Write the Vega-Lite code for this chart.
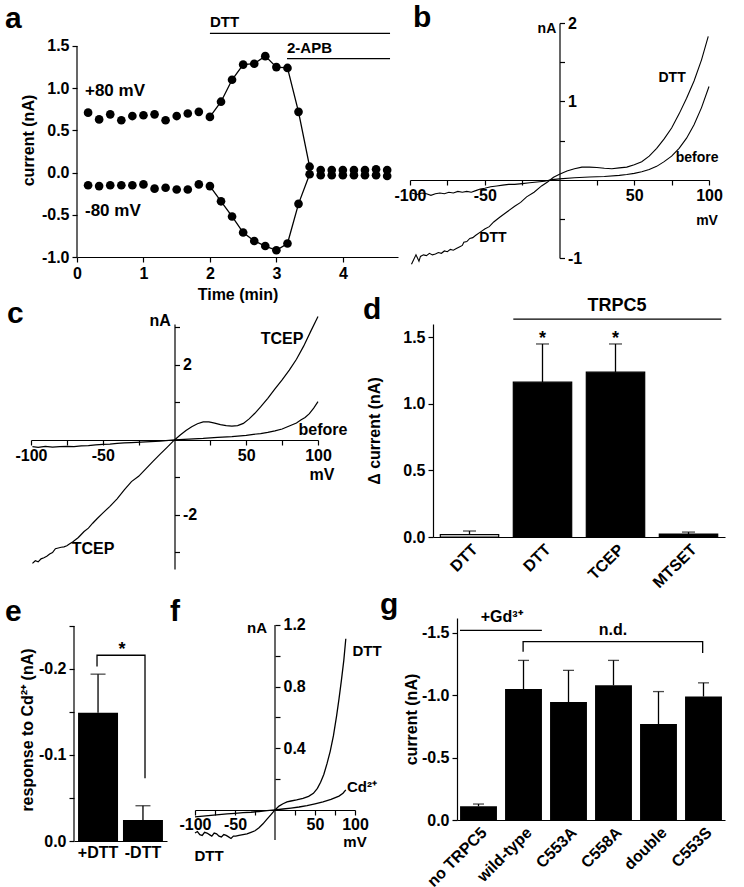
{
"$schema": "https://vega.github.io/schema/vega-lite/v6.json",
"background": "white",
"padding": {"left": 5, "top": 3, "right": 4, "bottom": 4},
"spacing": -7,
"config": {
 "font": "Liberation Sans",
 "view": {"stroke": null},
 "axis": {"labelFont": "Liberation Sans", "labelFontSize": 16, "labelFontWeight": "bold", "labelColor": "black", "titleFont": "Liberation Sans", "titleFontSize": 16, "titleFontWeight": "bold", "titleColor": "black", "domainColor": "black", "domainWidth": 1.2, "tickColor": "black", "tickWidth": 1.2, "tickSize": 5, "grid": false, "labelPadding": 3, "labelOverlap": false, "labelFlush": false, "labelBound": false},
 "title": {"font": "Liberation Sans", "fontSize": 30, "fontWeight": "bold", "color": "black", "anchor": "start", "frame": "group", "offset": 0, "baseline": "bottom"},
 "text": {"font": "Liberation Sans", "fontWeight": "bold", "fontSize": 15, "color": "black"}
},
"datasets": {
 "a": [
  {"t":0.167,"v":0.71,"s":"p"},{"t":0.333,"v":0.63,"s":"p"},{"t":0.5,"v":0.69,"s":"p"},{"t":0.667,"v":0.62,"s":"p"},{"t":0.833,"v":0.67,"s":"p"},{"t":1.0,"v":0.68,"s":"p"},{"t":1.167,"v":0.69,"s":"p"},{"t":1.333,"v":0.62,"s":"p"},{"t":1.5,"v":0.67,"s":"p"},{"t":1.667,"v":0.70,"s":"p"},{"t":1.833,"v":0.72,"s":"p"},{"t":2.0,"v":0.66,"s":"p"},{"t":2.167,"v":0.84,"s":"p"},{"t":2.333,"v":1.10,"s":"p"},{"t":2.5,"v":1.28,"s":"p"},{"t":2.667,"v":1.29,"s":"p"},{"t":2.833,"v":1.38,"s":"p"},{"t":3.0,"v":1.25,"s":"p"},{"t":3.167,"v":1.24,"s":"p"},{"t":3.333,"v":0.72,"s":"p"},{"t":3.5,"v":0.07,"s":"p"},{"t":3.667,"v":0.03,"s":"p"},{"t":3.833,"v":0.03,"s":"p"},{"t":4.0,"v":0.03,"s":"p"},{"t":4.167,"v":0.03,"s":"p"},{"t":4.333,"v":0.03,"s":"p"},{"t":4.5,"v":0.04,"s":"p"},{"t":4.667,"v":0.03,"s":"p"},
  {"t":0.167,"v":-0.15,"s":"n"},{"t":0.333,"v":-0.16,"s":"n"},{"t":0.5,"v":-0.15,"s":"n"},{"t":0.667,"v":-0.15,"s":"n"},{"t":0.833,"v":-0.15,"s":"n"},{"t":1.0,"v":-0.14,"s":"n"},{"t":1.167,"v":-0.19,"s":"n"},{"t":1.333,"v":-0.18,"s":"n"},{"t":1.5,"v":-0.20,"s":"n"},{"t":1.667,"v":-0.20,"s":"n"},{"t":1.833,"v":-0.14,"s":"n"},{"t":2.0,"v":-0.16,"s":"n"},{"t":2.167,"v":-0.34,"s":"n"},{"t":2.333,"v":-0.52,"s":"n"},{"t":2.5,"v":-0.71,"s":"n"},{"t":2.667,"v":-0.81,"s":"n"},{"t":2.833,"v":-0.87,"s":"n"},{"t":3.0,"v":-0.92,"s":"n"},{"t":3.167,"v":-0.84,"s":"n"},{"t":3.333,"v":-0.37,"s":"n"},{"t":3.5,"v":-0.02,"s":"n"},{"t":3.667,"v":-0.03,"s":"n"},{"t":3.833,"v":-0.03,"s":"n"},{"t":4.0,"v":-0.03,"s":"n"},{"t":4.167,"v":-0.03,"s":"n"},{"t":4.333,"v":-0.03,"s":"n"},{"t":4.5,"v":-0.03,"s":"n"},{"t":4.667,"v":-0.04,"s":"n"}
 ],
 "a_lab": [{"t":0.12,"v":0.97,"label":"+80 mV"},{"t":0.12,"v":-0.46,"label":"-80 mV"}],
 "a_bar": [{"t1":2.0,"t2":4.71,"v":1.65,"label":"DTT"},{"t1":3.16,"t2":4.71,"v":1.35,"label":"2-APB"}],
 "b": [
  {"mv":-99,"na":-1.08,"tr":"DTT"},{"mv":-97.5,"na":-1.02,"tr":"DTT"},{"mv":-96,"na":-0.96,"tr":"DTT"},{"mv":-95,"na":-1.0,"tr":"DTT"},{"mv":-94,"na":-1.04,"tr":"DTT"},{"mv":-93,"na":-0.98,"tr":"DTT"},{"mv":-91,"na":-0.96,"tr":"DTT"},{"mv":-89,"na":-0.97,"tr":"DTT"},{"mv":-87,"na":-0.94,"tr":"DTT"},{"mv":-85,"na":-0.96,"tr":"DTT"},{"mv":-83,"na":-0.95,"tr":"DTT"},{"mv":-81,"na":-0.93,"tr":"DTT"},{"mv":-79,"na":-0.94,"tr":"DTT"},{"mv":-77,"na":-0.91,"tr":"DTT"},{"mv":-75,"na":-0.92,"tr":"DTT"},{"mv":-73,"na":-0.89,"tr":"DTT"},{"mv":-71,"na":-0.9,"tr":"DTT"},{"mv":-69,"na":-0.88,"tr":"DTT"},{"mv":-67,"na":-0.86,"tr":"DTT"},{"mv":-65,"na":-0.84,"tr":"DTT"},{"mv":-64,"na":-0.8,"tr":"DTT"},{"mv":-62,"na":-0.79,"tr":"DTT"},{"mv":-60,"na":-0.75,"tr":"DTT"},{"mv":-58,"na":-0.74,"tr":"DTT"},{"mv":-56,"na":-0.71,"tr":"DTT"},{"mv":-53,"na":-0.67,"tr":"DTT"},{"mv":-50,"na":-0.63,"tr":"DTT"},{"mv":-47,"na":-0.6,"tr":"DTT"},{"mv":-44,"na":-0.54,"tr":"DTT"},{"mv":-40,"na":-0.48,"tr":"DTT"},{"mv":-35,"na":-0.41,"tr":"DTT"},{"mv":-30,"na":-0.34,"tr":"DTT"},{"mv":-26,"na":-0.29,"tr":"DTT"},{"mv":-22,"na":-0.22,"tr":"DTT"},{"mv":-17,"na":-0.16,"tr":"DTT"},{"mv":-12,"na":-0.08,"tr":"DTT"},{"mv":-8,"na":-0.03,"tr":"DTT"},{"mv":-4,"na":0.03,"tr":"DTT"},{"mv":0,"na":0.07,"tr":"DTT"},{"mv":5,"na":0.11,"tr":"DTT"},{"mv":10,"na":0.14,"tr":"DTT"},{"mv":15,"na":0.16,"tr":"DTT"},{"mv":20,"na":0.16,"tr":"DTT"},{"mv":25,"na":0.155,"tr":"DTT"},{"mv":30,"na":0.145,"tr":"DTT"},{"mv":35,"na":0.14,"tr":"DTT"},{"mv":40,"na":0.15,"tr":"DTT"},{"mv":45,"na":0.16,"tr":"DTT"},{"mv":50,"na":0.19,"tr":"DTT"},{"mv":55,"na":0.23,"tr":"DTT"},{"mv":60,"na":0.3,"tr":"DTT"},{"mv":65,"na":0.4,"tr":"DTT"},{"mv":70,"na":0.52,"tr":"DTT"},{"mv":75,"na":0.66,"tr":"DTT"},{"mv":80,"na":0.84,"tr":"DTT"},{"mv":85,"na":1.04,"tr":"DTT"},{"mv":90,"na":1.26,"tr":"DTT"},{"mv":95,"na":1.53,"tr":"DTT"},{"mv":99.5,"na":1.83,"tr":"DTT"},
  {"mv":-99,"na":-0.17,"tr":"before"},{"mv":-95,"na":-0.19,"tr":"before"},{"mv":-92,"na":-0.17,"tr":"before"},{"mv":-89,"na":-0.18,"tr":"before"},{"mv":-86,"na":-0.2,"tr":"before"},{"mv":-83,"na":-0.18,"tr":"before"},{"mv":-80,"na":-0.17,"tr":"before"},{"mv":-77,"na":-0.18,"tr":"before"},{"mv":-74,"na":-0.16,"tr":"before"},{"mv":-71,"na":-0.17,"tr":"before"},{"mv":-68,"na":-0.15,"tr":"before"},{"mv":-65,"na":-0.16,"tr":"before"},{"mv":-62,"na":-0.15,"tr":"before"},{"mv":-59,"na":-0.16,"tr":"before"},{"mv":-56,"na":-0.14,"tr":"before"},{"mv":-53,"na":-0.12,"tr":"before"},{"mv":-50,"na":-0.11,"tr":"before"},{"mv":-46,"na":-0.09,"tr":"before"},{"mv":-42,"na":-0.08,"tr":"before"},{"mv":-38,"na":-0.07,"tr":"before"},{"mv":-34,"na":-0.06,"tr":"before"},{"mv":-30,"na":-0.06,"tr":"before"},{"mv":-25,"na":-0.05,"tr":"before"},{"mv":-20,"na":-0.04,"tr":"before"},{"mv":-15,"na":-0.03,"tr":"before"},{"mv":-10,"na":-0.02,"tr":"before"},{"mv":-5,"na":0.0,"tr":"before"},{"mv":0,"na":0.01,"tr":"before"},{"mv":10,"na":0.025,"tr":"before"},{"mv":20,"na":0.035,"tr":"before"},{"mv":30,"na":0.04,"tr":"before"},{"mv":40,"na":0.055,"tr":"before"},{"mv":45,"na":0.065,"tr":"before"},{"mv":50,"na":0.08,"tr":"before"},{"mv":55,"na":0.1,"tr":"before"},{"mv":60,"na":0.13,"tr":"before"},{"mv":65,"na":0.17,"tr":"before"},{"mv":70,"na":0.23,"tr":"before"},{"mv":75,"na":0.3,"tr":"before"},{"mv":80,"na":0.4,"tr":"before"},{"mv":85,"na":0.53,"tr":"before"},{"mv":90,"na":0.7,"tr":"before"},{"mv":95,"na":0.92,"tr":"before"},{"mv":100,"na":1.19,"tr":"before"}
 ],
 "b_lab": [{"mv":75.3,"na":1.30,"t":"DTT"},{"mv":92,"na":0.28,"t":"before"},{"mv":-44.5,"na":-0.745,"t":"DTT"},{"mv":-8.4,"na":1.92,"t":"nA"},{"mv":98.7,"na":-0.53,"t":"mV"}],
 "c": [
  {"mv":-99,"na":-3.29,"tr":"TCEP"},{"mv":-97,"na":-3.22,"tr":"TCEP"},{"mv":-95,"na":-3.25,"tr":"TCEP"},{"mv":-93,"na":-3.17,"tr":"TCEP"},{"mv":-91,"na":-3.14,"tr":"TCEP"},{"mv":-89,"na":-3.1,"tr":"TCEP"},{"mv":-87,"na":-3.04,"tr":"TCEP"},{"mv":-85,"na":-3.0,"tr":"TCEP"},{"mv":-83,"na":-2.9,"tr":"TCEP"},{"mv":-81,"na":-2.88,"tr":"TCEP"},{"mv":-79,"na":-2.86,"tr":"TCEP"},{"mv":-77,"na":-2.85,"tr":"TCEP"},{"mv":-75,"na":-2.82,"tr":"TCEP"},{"mv":-73,"na":-2.77,"tr":"TCEP"},{"mv":-71,"na":-2.72,"tr":"TCEP"},{"mv":-69,"na":-2.66,"tr":"TCEP"},{"mv":-67,"na":-2.6,"tr":"TCEP"},{"mv":-65,"na":-2.52,"tr":"TCEP"},{"mv":-63,"na":-2.44,"tr":"TCEP"},{"mv":-60,"na":-2.35,"tr":"TCEP"},{"mv":-57,"na":-2.22,"tr":"TCEP"},{"mv":-54,"na":-2.1,"tr":"TCEP"},{"mv":-50,"na":-1.95,"tr":"TCEP"},{"mv":-45,"na":-1.77,"tr":"TCEP"},{"mv":-40,"na":-1.57,"tr":"TCEP"},{"mv":-35,"na":-1.33,"tr":"TCEP"},{"mv":-30,"na":-1.11,"tr":"TCEP"},{"mv":-25,"na":-0.97,"tr":"TCEP"},{"mv":-20,"na":-0.77,"tr":"TCEP"},{"mv":-15,"na":-0.57,"tr":"TCEP"},{"mv":-10,"na":-0.38,"tr":"TCEP"},{"mv":-5,"na":-0.19,"tr":"TCEP"},{"mv":0,"na":0,"tr":"TCEP"},{"mv":4,"na":0.13,"tr":"TCEP"},{"mv":8,"na":0.25,"tr":"TCEP"},{"mv":12,"na":0.35,"tr":"TCEP"},{"mv":16,"na":0.43,"tr":"TCEP"},{"mv":20,"na":0.48,"tr":"TCEP"},{"mv":24,"na":0.48,"tr":"TCEP"},{"mv":28,"na":0.45,"tr":"TCEP"},{"mv":32,"na":0.41,"tr":"TCEP"},{"mv":36,"na":0.38,"tr":"TCEP"},{"mv":40,"na":0.37,"tr":"TCEP"},{"mv":44,"na":0.38,"tr":"TCEP"},{"mv":48,"na":0.44,"tr":"TCEP"},{"mv":52,"na":0.56,"tr":"TCEP"},{"mv":56,"na":0.71,"tr":"TCEP"},{"mv":60,"na":0.88,"tr":"TCEP"},{"mv":65,"na":1.11,"tr":"TCEP"},{"mv":70,"na":1.36,"tr":"TCEP"},{"mv":75,"na":1.6,"tr":"TCEP"},{"mv":80,"na":1.86,"tr":"TCEP"},{"mv":85,"na":2.15,"tr":"TCEP"},{"mv":90,"na":2.5,"tr":"TCEP"},{"mv":95,"na":2.9,"tr":"TCEP"},{"mv":100,"na":3.29,"tr":"TCEP"},
  {"mv":-99,"na":-0.18,"tr":"before"},{"mv":-95,"na":-0.2,"tr":"before"},{"mv":-90,"na":-0.17,"tr":"before"},{"mv":-85,"na":-0.19,"tr":"before"},{"mv":-80,"na":-0.18,"tr":"before"},{"mv":-75,"na":-0.17,"tr":"before"},{"mv":-70,"na":-0.18,"tr":"before"},{"mv":-65,"na":-0.16,"tr":"before"},{"mv":-60,"na":-0.15,"tr":"before"},{"mv":-55,"na":-0.13,"tr":"before"},{"mv":-50,"na":-0.12,"tr":"before"},{"mv":-45,"na":-0.11,"tr":"before"},{"mv":-40,"na":-0.09,"tr":"before"},{"mv":-35,"na":-0.08,"tr":"before"},{"mv":-30,"na":-0.07,"tr":"before"},{"mv":-20,"na":-0.05,"tr":"before"},{"mv":-10,"na":-0.03,"tr":"before"},{"mv":0,"na":0,"tr":"before"},{"mv":10,"na":0.02,"tr":"before"},{"mv":20,"na":0.04,"tr":"before"},{"mv":30,"na":0.07,"tr":"before"},{"mv":40,"na":0.09,"tr":"before"},{"mv":50,"na":0.12,"tr":"before"},{"mv":55,"na":0.15,"tr":"before"},{"mv":60,"na":0.17,"tr":"before"},{"mv":65,"na":0.2,"tr":"before"},{"mv":70,"na":0.24,"tr":"before"},{"mv":75,"na":0.29,"tr":"before"},{"mv":80,"na":0.37,"tr":"before"},{"mv":85,"na":0.45,"tr":"before"},{"mv":88,"na":0.53,"tr":"before"},{"mv":91,"na":0.6,"tr":"before"},{"mv":94,"na":0.7,"tr":"before"},{"mv":97,"na":0.85,"tr":"before"},{"mv":100,"na":1.02,"tr":"before"}
 ],
 "c_lab": [{"mv":74.9,"na":2.70,"t":"TCEP"},{"mv":103.5,"na":0.27,"t":"before"},{"mv":-56.8,"na":-2.90,"t":"TCEP"},{"mv":-10,"na":3.18,"t":"nA"},{"mv":102.8,"na":-0.93,"t":"mV"}],
 "d": [{"k":"DTT ","v":0.018,"err":0.045,"g":"control","sig":""},{"k":"DTT","v":1.163,"err":1.45,"g":"TRPC5","sig":"*"},{"k":"TCEP","v":1.238,"err":1.45,"g":"TRPC5","sig":"*"},{"k":"MTSET","v":0.022,"err":0.037,"g":"TRPC5","sig":""}],
 "d_ann": [{"x1":1.1,"x2":3.95,"xt":2.52,"y":1.637,"label":"TRPC5"}],
 "e": [{"k":"+DTT","v":-0.149,"err":-0.194},{"k":"-DTT","v":-0.0244,"err":-0.041}],
 "e_br": [{"x":0.495,"y":-0.203,"o":1},{"x":0.495,"y":-0.216,"o":2},{"x":1.527,"y":-0.216,"o":3},{"x":1.527,"y":-0.073,"o":4}],
 "e_star": [{"x":1.03,"y":-0.216,"label":"*"}],
 "f": [
  {"mv":-100,"na":-0.15,"tr":"DTT"},{"mv":-97,"na":-0.14,"tr":"DTT"},{"mv":-94,"na":-0.16,"tr":"DTT"},{"mv":-91,"na":-0.165,"tr":"DTT"},{"mv":-88,"na":-0.145,"tr":"DTT"},{"mv":-85,"na":-0.15,"tr":"DTT"},{"mv":-82,"na":-0.16,"tr":"DTT"},{"mv":-79,"na":-0.17,"tr":"DTT"},{"mv":-76,"na":-0.15,"tr":"DTT"},{"mv":-73,"na":-0.155,"tr":"DTT"},{"mv":-70,"na":-0.17,"tr":"DTT"},{"mv":-67,"na":-0.175,"tr":"DTT"},{"mv":-64,"na":-0.16,"tr":"DTT"},{"mv":-61,"na":-0.165,"tr":"DTT"},{"mv":-58,"na":-0.175,"tr":"DTT"},{"mv":-55,"na":-0.185,"tr":"DTT"},{"mv":-52,"na":-0.17,"tr":"DTT"},{"mv":-49,"na":-0.17,"tr":"DTT"},{"mv":-45,"na":-0.165,"tr":"DTT"},{"mv":-40,"na":-0.16,"tr":"DTT"},{"mv":-35,"na":-0.155,"tr":"DTT"},{"mv":-30,"na":-0.145,"tr":"DTT"},{"mv":-25,"na":-0.135,"tr":"DTT"},{"mv":-20,"na":-0.115,"tr":"DTT"},{"mv":-15,"na":-0.09,"tr":"DTT"},{"mv":-10,"na":-0.06,"tr":"DTT"},{"mv":-5,"na":-0.03,"tr":"DTT"},{"mv":0,"na":0,"tr":"DTT"},{"mv":5,"na":0.025,"tr":"DTT"},{"mv":10,"na":0.04,"tr":"DTT"},{"mv":15,"na":0.052,"tr":"DTT"},{"mv":20,"na":0.058,"tr":"DTT"},{"mv":27,"na":0.065,"tr":"DTT"},{"mv":35,"na":0.075,"tr":"DTT"},{"mv":42,"na":0.088,"tr":"DTT"},{"mv":48,"na":0.108,"tr":"DTT"},{"mv":53,"na":0.14,"tr":"DTT"},{"mv":57,"na":0.18,"tr":"DTT"},{"mv":61,"na":0.23,"tr":"DTT"},{"mv":65,"na":0.3,"tr":"DTT"},{"mv":69,"na":0.38,"tr":"DTT"},{"mv":73,"na":0.48,"tr":"DTT"},{"mv":77,"na":0.61,"tr":"DTT"},{"mv":80,"na":0.72,"tr":"DTT"},{"mv":83,"na":0.84,"tr":"DTT"},{"mv":86,"na":0.97,"tr":"DTT"},{"mv":88.5,"na":1.11,"tr":"DTT"},
  {"mv":-100,"na":-0.045,"tr":"Cd"},{"mv":-90,"na":-0.04,"tr":"Cd"},{"mv":-80,"na":-0.035,"tr":"Cd"},{"mv":-70,"na":-0.03,"tr":"Cd"},{"mv":-60,"na":-0.025,"tr":"Cd"},{"mv":-50,"na":-0.022,"tr":"Cd"},{"mv":-40,"na":-0.018,"tr":"Cd"},{"mv":-30,"na":-0.015,"tr":"Cd"},{"mv":-20,"na":-0.01,"tr":"Cd"},{"mv":-10,"na":-0.005,"tr":"Cd"},{"mv":0,"na":0,"tr":"Cd"},{"mv":10,"na":0.006,"tr":"Cd"},{"mv":20,"na":0.012,"tr":"Cd"},{"mv":30,"na":0.019,"tr":"Cd"},{"mv":40,"na":0.028,"tr":"Cd"},{"mv":50,"na":0.04,"tr":"Cd"},{"mv":60,"na":0.053,"tr":"Cd"},{"mv":70,"na":0.068,"tr":"Cd"},{"mv":80,"na":0.09,"tr":"Cd"},{"mv":85,"na":0.108,"tr":"Cd"},{"mv":88.5,"na":0.13,"tr":"Cd"}
 ],
 "f_lab": [{"mv":115,"na":1.03,"t":"DTT"},{"mv":108.75,"na":0.151,"t":"Cd²⁺"},{"mv":-82.5,"na":-0.30,"t":"DTT"},{"mv":-22.5,"na":1.18,"t":"nA"},{"mv":100,"na":-0.21,"t":"mV"}],
 "g": [{"k":"no TRPC5","v":-0.11,"err":-0.128},{"k":"wild-type","v":-1.05,"err":-1.28},{"k":"C553A","v":-0.946,"err":-1.20},{"k":"C558A","v":-1.08,"err":-1.28},{"k":"double","v":-0.77,"err":-1.03},{"k":"C553S","v":-0.99,"err":-1.10}],
 "g_gd": [{"x1":0.067,"x2":1.9,"xt":1.0,"y":-1.52,"label":"+Gd³⁺"}],
 "g_br": [{"x":1.48,"y":-1.35,"o":1},{"x":1.48,"y":-1.43,"o":2},{"x":5.5,"y":-1.43,"o":3},{"x":5.5,"y":-1.34,"o":4}],
 "g_nd": [{"x":3.49,"y":-1.43,"label":"n.d."}]
},
"vconcat": [
{"hconcat": [
 {"width": 46, "height": 1, "data": {"values": []}, "mark": "point"},
 {
  "width": 321, "height": 234,
  "title": {"text": "a", "dx": -72, "dy": 23},
  "layer": [
   {"data": {"name": "a"}, "transform": [{"filter": "datum.t >= 1.95 && datum.t <= 3.55"}],
    "mark": {"type": "line", "color": "black", "strokeWidth": 1.3},
    "encoding": {
     "x": {"field": "t", "type": "quantitative", "scale": {"domain": [0, 4.83], "nice": false, "zero": false},
       "axis": {"values": [0,0.5,1,1.5,2,2.5,3,3.5,4,4.5], "format": ".0f", "labelExpr": "datum.value % 1 === 0 ? datum.label : ''", "labelOverlap": false, "title": "Time (min)", "titlePadding": 5}},
     "y": {"field": "v", "type": "quantitative", "scale": {"domain": [-1, 1.7725], "nice": false, "zero": false},
       "axis": {"values": [-1,-0.5,0,0.5,1,1.5], "format": ".1f", "labelExpr": "replace(datum.label, '−', '-')", "labelOverlap": false, "domain": false, "title": "current (nA)", "titlePadding": 5}},
     "detail": {"field": "s"}}},
   {"data": {"name": "a"}, "mark": {"type": "point", "filled": true, "color": "black", "opacity": 1, "size": 75},
    "encoding": {"x": {"field": "t", "type": "quantitative"}, "y": {"field": "v", "type": "quantitative"}}},
   {"data": {"values": [{}]}, "mark": {"type": "rule", "color": "black", "strokeWidth": 1.2},
    "encoding": {"x": {"datum": 0}, "y": {"datum": -1}, "y2": {"datum": 1.5}}},
   {"data": {"name": "a_lab"}, "mark": {"type": "text", "align": "left", "baseline": "middle", "fontSize": 17},
    "encoding": {"x": {"field": "t", "type": "quantitative"}, "y": {"field": "v", "type": "quantitative"}, "text": {"field": "label"}}},
   {"data": {"name": "a_bar"}, "mark": {"type": "rule", "color": "black", "strokeWidth": 1.3},
    "encoding": {"x": {"field": "t1", "type": "quantitative"}, "x2": {"field": "t2"}, "y": {"field": "v", "type": "quantitative"}}},
   {"data": {"name": "a_bar"}, "mark": {"type": "text", "align": "left", "baseline": "bottom", "dy": -3, "fontSize": 15},
    "encoding": {"x": {"field": "t1", "type": "quantitative"}, "y": {"field": "v", "type": "quantitative"}, "text": {"field": "label"}}}
  ]
 },
 {"width": 12, "height": 1, "data": {"values": []}, "mark": "point"},
 {
  "width": 299, "height": 235,
  "title": {"text": "b", "dx": 3, "dy": 22},
  "resolve": {"axis": {"x": "independent", "y": "independent"}},
  "layer": [
   {"data": {"name": "b"}, "mark": {"type": "line", "color": "black", "strokeWidth": 1.1},
    "encoding": {
     "x": {"field": "mv", "type": "quantitative", "scale": {"domain": [-100, 100], "nice": false},
       "axis": {"orient": "bottom", "offset": -78, "values": [-100,-50,50,100], "format": "d", "labelExpr": "replace(datum.label, '−', '-')", "labelOverlap": false, "title": null, "labelPadding": 2}},
     "y": {"field": "na", "type": "quantitative", "scale": {"domain": [-1, 2], "nice": false},
       "axis": {"orient": "right", "offset": -149.5, "values": [-1,1,2], "format": "d", "labelExpr": "replace(datum.label, '−', '-')", "labelOverlap": false, "title": null}},
     "detail": {"field": "tr"}}},
   {"data": {"name": "b_lab"}, "mark": {"type": "text", "align": "center", "baseline": "middle", "fontSize": 14},
    "encoding": {
     "x": {"field": "mv", "type": "quantitative", "axis": {"orient": "bottom", "offset": -78, "values": [-75,-25,25,75], "labels": false, "domain": false, "title": null}},
     "y": {"field": "na", "type": "quantitative", "axis": {"orient": "right", "offset": -149.5, "values": [-0.5,0.5,1.5], "labels": false, "domain": false, "title": null}},
     "text": {"field": "t"}}}
  ]
 }
], "spacing": 0, "bounds": "flush"},
{"vconcat": [
{"hconcat": [
 {
  "width": 287, "height": 245,
  "title": {"text": "c", "dx": -24, "dy": 20},
  "layer": [
   {"data": {"name": "c"}, "mark": {"type": "line", "color": "black", "strokeWidth": 1.2},
    "encoding": {
     "x": {"field": "mv", "type": "quantitative", "scale": {"domain": [-100, 100], "nice": false},
       "axis": {"orient": "bottom", "offset": -129, "values": [-100,-75,-50,-25,25,50,75,100], "format": "d", "labelExpr": "datum.value % 50 === 0 ? replace(datum.label, '−', '-') : ''", "labelOverlap": false, "title": null, "labelPadding": 2}},
     "y": {"field": "na", "type": "quantitative", "scale": {"domain": [-3.44, 3.09], "nice": false},
       "axis": {"orient": "right", "offset": -143.5, "values": [-3,-2,-1,1,2,3], "format": "d", "labelExpr": "abs(datum.value) === 2 ? replace(datum.label, '−', '-') : ''", "labelOverlap": false, "title": null}},
     "detail": {"field": "tr"}}},
   {"data": {"name": "c_lab"}, "mark": {"type": "text", "align": "center", "baseline": "middle", "fontSize": 16},
    "encoding": {"x": {"field": "mv", "type": "quantitative"}, "y": {"field": "na", "type": "quantitative"}, "text": {"field": "t"}}}
  ]
 },
 {"width": 115, "height": 1, "data": {"values": []}, "mark": "point"},
 {
  "width": 292, "height": 213,
  "title": {"text": "d", "dx": -70, "dy": 32},
  "resolve": {"scale": {"x": "independent"}},
  "layer": [
   {"data": {"name": "d"}, "layer": [
     {"mark": {"type": "bar", "stroke": "black", "strokeWidth": 1.2},
      "encoding": {
       "x": {"field": "k", "type": "nominal", "sort": null, "scale": {"paddingInner": 0.2, "paddingOuter": 0.1},
         "axis": {"title": null, "labelAngle": -45, "ticks": false, "labelExpr": "trim(datum.label)", "labelPadding": 4, "labelOverlap": false}},
       "y": {"field": "v", "type": "quantitative", "scale": {"domain": [0, 1.6], "nice": false},
         "axis": {"values": [0,0.25,0.5,0.75,1,1.25,1.5], "format": ".1f", "labelExpr": "datum.value % 0.5 === 0 ? datum.label : ''", "labelOverlap": false, "title": "Δ current (nA)", "titlePadding": 20}},
       "fill": {"field": "g", "type": "nominal", "scale": {"domain": ["control", "TRPC5"], "range": ["white", "black"]}, "legend": null}}},
     {"mark": {"type": "rule", "color": "black", "strokeWidth": 1.3},
      "encoding": {"x": {"field": "k", "type": "nominal", "sort": null}, "y": {"field": "v", "type": "quantitative"}, "y2": {"field": "err"}}},
     {"mark": {"type": "tick", "color": "black", "thickness": 1.3, "size": 13, "orient": "horizontal"},
      "encoding": {"x": {"field": "k", "type": "nominal", "sort": null}, "y": {"field": "err", "type": "quantitative"}}},
     {"mark": {"type": "text", "fontSize": 18, "baseline": "alphabetic", "align": "center"},
      "encoding": {"x": {"field": "k", "type": "nominal", "sort": null}, "y": {"field": "err", "type": "quantitative"}, "text": {"field": "sig"}}}
   ]},
   {"data": {"name": "d_ann"}, "layer": [
     {"mark": {"type": "rule", "color": "black", "strokeWidth": 1.3},
      "encoding": {"x": {"field": "x1", "type": "quantitative", "scale": {"domain": [0, 4], "nice": false}, "axis": null}, "x2": {"field": "x2"}, "y": {"field": "y", "type": "quantitative"}}},
     {"mark": {"type": "text", "fontSize": 18, "baseline": "bottom", "dy": -4},
      "encoding": {"x": {"field": "xt", "type": "quantitative"}, "y": {"field": "y", "type": "quantitative"}, "text": {"field": "label"}}}
   ]}
  ]
 }
], "spacing": 0, "bounds": "flush"},
{"hconcat": [
 {"width": 43, "height": 1, "data": {"values": []}, "mark": "point"},
 {
  "width": 93, "height": 223,
  "title": {"text": "e", "dx": -69, "dy": 13},
  "resolve": {"scale": {"x": "independent"}},
  "layer": [
   {"data": {"name": "e"}, "layer": [
     {"mark": {"type": "bar", "color": "black"},
      "encoding": {
       "x": {"field": "k", "type": "nominal", "sort": null, "scale": {"paddingInner": 0.11, "paddingOuter": 0.09},
         "axis": {"title": null, "labelAngle": 0, "ticks": false, "labelPadding": 3, "labelOverlap": false}},
       "y": {"field": "v", "type": "quantitative", "scale": {"domain": [-0.2593, 0], "nice": false, "reverse": true},
         "axis": {"values": [0,-0.05,-0.1,-0.15,-0.2,-0.25], "format": ".1f", "labelExpr": "abs(datum.value*10 - round(datum.value*10)) < 0.001 ? replace(datum.label, '−', '-') : ''", "labelOverlap": false, "domain": false, "title": "response to Cd²⁺ (nA)", "titlePadding": 3}}}},
     {"mark": {"type": "rule", "color": "black", "strokeWidth": 1.3},
      "encoding": {"x": {"field": "k", "type": "nominal", "sort": null}, "y": {"field": "v", "type": "quantitative"}, "y2": {"field": "err"}}},
     {"mark": {"type": "tick", "color": "black", "thickness": 1.3, "size": 15, "orient": "horizontal"},
      "encoding": {"x": {"field": "k", "type": "nominal", "sort": null}, "y": {"field": "err", "type": "quantitative"}}}
   ]},
   {"layer": [
     {"data": {"name": "e_br"}, "mark": {"type": "line", "color": "black", "strokeWidth": 1.3},
      "encoding": {"x": {"field": "x", "type": "quantitative", "scale": {"domain": [0, 2], "nice": false}, "axis": null}, "y": {"field": "y", "type": "quantitative"}, "order": {"field": "o"}}},
     {"data": {"name": "e_star"}, "mark": {"type": "text", "fontSize": 18, "baseline": "alphabetic"},
      "encoding": {"x": {"field": "x", "type": "quantitative"}, "y": {"field": "y", "type": "quantitative"}, "text": {"field": "label"}}},
     {"data": {"values": [{}]}, "mark": {"type": "rule", "color": "black", "strokeWidth": 1.2},
      "encoding": {"x": {"datum": 0}, "y": {"datum": 0}, "y2": {"datum": -0.25}}}
   ]}
  ]
 },
 {"width": 28, "height": 1, "data": {"values": []}, "mark": "point"},
 {
  "width": 160, "height": 222,
  "title": {"text": "f", "dx": -25, "dy": 14},
  "resolve": {"axis": {"x": "independent", "y": "independent"}},
  "layer": [
   {"data": {"name": "f"}, "mark": {"type": "line", "color": "black", "strokeWidth": 1.3},
    "encoding": {
     "x": {"field": "mv", "type": "quantitative", "scale": {"domain": [-100, 100], "nice": false},
       "axis": {"orient": "bottom", "offset": -30, "values": [-100,-50,50,100], "format": "d", "labelExpr": "replace(datum.label, '−', '-')", "labelOverlap": false, "title": null, "labelPadding": 1}},
     "y": {"field": "na", "type": "quantitative", "scale": {"domain": [-0.195, 1.245], "nice": false, "zero": false},
       "axis": {"orient": "right", "offset": -80, "values": [0.4,0.8,1.2], "format": ".1f", "labelOverlap": false, "domain": false, "title": null}},
     "detail": {"field": "tr"}}},
   {"data": {"values": [{}]}, "mark": {"type": "rule", "color": "black", "strokeWidth": 1.2},
    "encoding": {"x": {"datum": 0, "axis": null}, "y": {"datum": -0.195, "axis": null}, "y2": {"datum": 1.2}}},
   {"data": {"name": "f_lab"}, "mark": {"type": "text", "align": "center", "baseline": "middle", "fontSize": 15},
    "encoding": {
     "x": {"field": "mv", "type": "quantitative", "axis": {"orient": "bottom", "offset": -30, "values": [-75,-25,25,75], "labels": false, "domain": false, "title": null}},
     "y": {"field": "na", "type": "quantitative", "axis": {"orient": "right", "offset": -80, "values": [0.2,0.6,1.0], "labels": false, "domain": false, "title": null}},
     "text": {"field": "t"}}}
  ]
 },
 {"width": 102, "height": 1, "data": {"values": []}, "mark": "point"},
 {
  "width": 268, "height": 202,
  "title": {"text": "g", "dx": -77, "dy": 15},
  "resolve": {"scale": {"x": "independent"}},
  "layer": [
   {"data": {"name": "g"}, "layer": [
     {"mark": {"type": "bar", "color": "black"},
      "encoding": {
       "x": {"field": "k", "type": "nominal", "sort": null, "scale": {"paddingInner": 0.18, "paddingOuter": 0.068},
         "axis": {"title": null, "labelAngle": -45, "ticks": false, "labelPadding": 4, "labelOverlap": false}},
       "y": {"field": "v", "type": "quantitative", "scale": {"domain": [-1.62, 0], "nice": false, "reverse": true},
         "axis": {"values": [0,-0.25,-0.5,-0.75,-1,-1.25,-1.5], "format": ".1f", "labelExpr": "datum.value % 0.5 === 0 ? replace(datum.label, '−', '-') : ''", "labelOverlap": false, "title": "current (nA)", "titlePadding": 2}}}},
     {"mark": {"type": "rule", "color": "black", "strokeWidth": 1.3},
      "encoding": {"x": {"field": "k", "type": "nominal", "sort": null}, "y": {"field": "v", "type": "quantitative"}, "y2": {"field": "err"}}},
     {"mark": {"type": "tick", "color": "black", "thickness": 1.3, "size": 11, "orient": "horizontal"},
      "encoding": {"x": {"field": "k", "type": "nominal", "sort": null}, "y": {"field": "err", "type": "quantitative"}}}
   ]},
   {"layer": [
     {"data": {"name": "g_gd"}, "mark": {"type": "rule", "color": "black", "strokeWidth": 1.3},
      "encoding": {"x": {"field": "x1", "type": "quantitative", "scale": {"domain": [0, 6], "nice": false}, "axis": null}, "x2": {"field": "x2"}, "y": {"field": "y", "type": "quantitative"}}},
     {"data": {"name": "g_gd"}, "mark": {"type": "text", "fontSize": 16, "baseline": "bottom", "dy": -5},
      "encoding": {"x": {"field": "xt", "type": "quantitative"}, "y": {"field": "y", "type": "quantitative"}, "text": {"field": "label"}}},
     {"data": {"name": "g_br"}, "mark": {"type": "line", "color": "black", "strokeWidth": 1.3},
      "encoding": {"x": {"field": "x", "type": "quantitative"}, "y": {"field": "y", "type": "quantitative"}, "order": {"field": "o"}}},
     {"data": {"name": "g_nd"}, "mark": {"type": "text", "fontSize": 16, "baseline": "bottom", "dy": -4},
      "encoding": {"x": {"field": "x", "type": "quantitative"}, "y": {"field": "y", "type": "quantitative"}, "text": {"field": "label"}}}
   ]}
  ]
 }
], "spacing": 0, "bounds": "flush"}
], "spacing": -1}
]
}
